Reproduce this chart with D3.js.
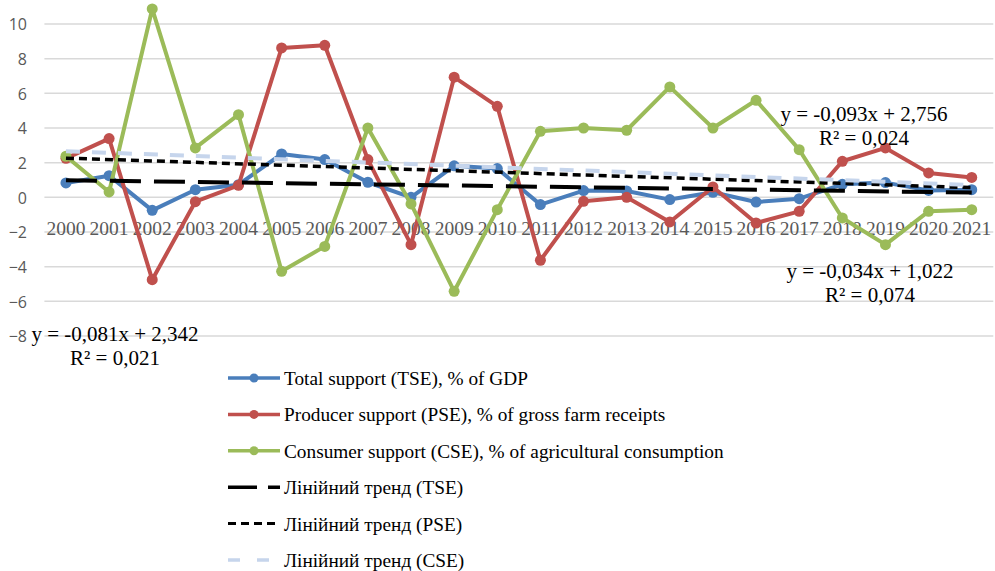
<!DOCTYPE html>
<html lang="uk"><head><meta charset="utf-8">
<script src="https://cdn.jsdelivr.net/npm/d3@7"></script>
<style>html,body{margin:0;padding:0;background:#fff;}svg{display:block;}</style>
</head><body>
<script>
const years = ["2000","2001","2002","2003","2004","2005","2006","2007","2008","2009","2010","2011","2012","2013","2014","2015","2016","2017","2018","2019","2020","2021"];
const tse = [0.83,1.25,-0.75,0.44,0.73,2.5,2.18,0.87,0.0,1.82,1.66,-0.42,0.39,0.37,-0.13,0.29,-0.27,-0.08,0.75,0.85,0.4,0.44];
const pse = [2.25,3.39,-4.75,-0.25,0.69,8.62,8.77,2.18,-2.73,6.93,5.25,-3.63,-0.23,0.0,-1.42,0.6,-1.48,-0.81,2.08,2.85,1.41,1.15];
const cse = [2.37,0.31,10.87,2.85,4.77,-4.27,-2.83,4.0,-0.38,-5.42,-0.71,3.81,4.0,3.87,6.37,4.0,5.6,2.75,-1.19,-2.73,-0.81,-0.71];
const yTicks = [-8,-6,-4,-2,0,2,4,6,8,10];
const seriesNames = ["Total support (TSE), % of GDP","Producer support (PSE), % of gross farm receipts","Consumer support (CSE), % of agricultural consumption"];
const trendNames = ["Лінійний тренд (TSE)","Лінійний тренд (PSE)","Лінійний тренд (CSE)"];
const trendSlopes = [-0.034,-0.081,-0.093];
const trendIntercepts = [1.022,2.342,2.756];
const trendLabels = [["y = -0,034x + 1,022","R² = 0,074"],["y = -0,081x + 2,342","R² = 0,021"],["y = -0,093x + 2,756","R² = 0,024"]];

const SERIF="'Liberation Serif', 'Times New Roman', serif";
const W=995,H=571;
const svg=d3.select("body").append("svg").attr("width",W).attr("height",H);
svg.append("rect").attr("width",W).attr("height",H).attr("fill","#fff");

const x=d3.scaleBand().domain(years).range([44.4,993.3]);
const cx=d=>x(d)+x.bandwidth()/2;
const y=d3.scaleLinear().domain([-8,10]).range([336,24]);
const xt=d3.scaleLinear().domain([1,years.length]).range([cx(years[0]),cx(years[years.length-1])]);

// gridlines
svg.append("g").selectAll("line").data(yTicks).join("line")
  .attr("x1",44.4).attr("x2",993.3).attr("y1",d=>y(d)).attr("y2",d=>y(d))
  .attr("stroke","#d9d9d9").attr("stroke-width",1.5);

// y axis labels
const yAxis=d3.axisLeft(y).tickValues(yTicks).tickSize(0).tickPadding(0).tickFormat(d3.format("d"));
const ga=svg.append("g").attr("transform","translate(27,0)").call(yAxis);
ga.select(".domain").remove();
ga.selectAll("text").attr("font-family","'Open Sans', sans-serif").attr("font-size","16px").attr("fill","#595959").attr("dy","0.36em");

// x axis labels
const xAxis=d3.axisBottom(x).tickSize(0).tickPadding(0);
const gx=svg.append("g").attr("transform","translate(0,235)").call(xAxis);
gx.select(".domain").remove();
gx.selectAll("text").attr("font-family",SERIF).attr("font-size","19.5px").attr("fill","#595959").attr("dy","0");

const colors=["#4a7ebb","#c0504d","#9bbb59"];
const data=[tse,pse,cse];
const line=d3.line().x((d,i)=>cx(years[i])).y(d=>y(d));
data.forEach((s,k)=>{
  const g=svg.append("g");
  g.append("path").attr("d",line(s)).attr("fill","none").attr("stroke",colors[k]).attr("stroke-width",4).attr("stroke-linejoin","round");
  g.selectAll("circle").data(s).join("circle").attr("cx",(d,i)=>cx(years[i])).attr("cy",d=>y(d)).attr("r",5.5).attr("fill",colors[k]);
});

// trend lines
const tStyles=[{c:"#000",w:4,da:"31,13"},{c:"#000",w:3.5,da:"8,5"},{c:"#c6d5ec",w:4,da:"14,12"}];
trendSlopes.forEach((m,k)=>{
  const b=trendIntercepts[k];
  svg.append("line").attr("x1",xt(1)).attr("x2",xt(years.length))
    .attr("y1",y(m*1+b)).attr("y2",y(m*years.length+b))
    .attr("stroke",tStyles[k].c).attr("stroke-width",tStyles[k].w).attr("stroke-dasharray",tStyles[k].da);
});

// trend equations
const eqPos=[[870,278],[115,341],[864,121]];
trendLabels.forEach((t,k)=>{
  const g=svg.append("g").attr("font-family",SERIF).attr("font-size","21px").attr("fill","#000").attr("text-anchor","middle");
  g.append("text").attr("x",eqPos[k][0]).attr("y",eqPos[k][1]).text(t[0]);
  g.append("text").attr("x",eqPos[k][0]).attr("y",eqPos[k][1]+24).text(t[1]);
});

// legend
const legY=d3.scaleLinear().domain([0,5]).range([378,560]);
const allNames=seriesNames.concat(trendNames);
allNames.forEach((n,i)=>{
  const yy=legY(i);
  const g=svg.append("g");
  if(i<3){
    g.append("line").attr("x1",228).attr("x2",280).attr("y1",yy).attr("y2",yy).attr("stroke",colors[i]).attr("stroke-width",3.5);
    g.append("circle").attr("cx",254).attr("cy",yy).attr("r",4.5).attr("fill",colors[i]);
  } else {
    const s=tStyles[i-3];
    const da = i===3 ? "29,11" : (i===4 ? "8,5" : "12,17");
    g.append("line").attr("x1",228).attr("x2",280).attr("y1",yy).attr("y2",yy).attr("stroke",s.c).attr("stroke-width",s.w-0.5).attr("stroke-dasharray",da);
  }
  g.append("text").attr("x",284).attr("y",yy+7).attr("font-family",SERIF).attr("font-size","19.3px").attr("fill","#000").text(n);
});
</script>
</body></html>
